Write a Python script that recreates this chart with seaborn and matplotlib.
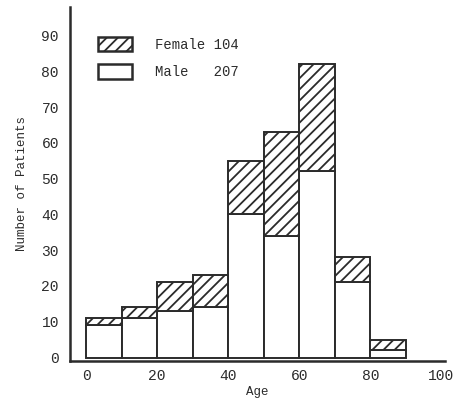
import matplotlib
matplotlib.use("Agg")
import matplotlib.pyplot as plt
import seaborn as sns
import pandas as pd
from matplotlib.patches import Patch

# Age groups (lower bound of each 10-year bin) and patient counts
age_bins = [0, 10, 20, 30, 40, 50, 60, 70, 80]
male_counts = [9, 11, 13, 14, 40, 34, 52, 21, 2]
female_counts = [2, 3, 8, 9, 15, 29, 30, 7, 3]
legend_labels = ["Female 104", "Male   207"]
x_ticks = [0, 20, 40, 60, 80, 100]
y_ticks = [0, 10, 20, 30, 40, 50, 60, 70, 80, 90]

ink = "#2b2b2b"
sns.set_style("white")
plt.rcParams["font.family"] = ["Liberation Mono", "DejaVu Sans Mono"]
plt.rcParams["hatch.linewidth"] = 1.3
plt.rcParams["hatch.color"] = ink

df = pd.DataFrame({
    "age": [a + 5 for a in age_bins] * 2,
    "count": male_counts + female_counts,
    "sex": ["Male"] * len(age_bins) + ["Female"] * len(age_bins),
})

fig = plt.figure(figsize=(4.55, 4.03), dpi=100)
ax = fig.add_axes([0.154, 0.104, 0.824, 0.879])

sns.histplot(
    data=df, x="age", weights="count", hue="sex",
    hue_order=["Female", "Male"], multiple="stack",
    bins=list(range(0, 100, 10)),
    palette={"Female": "#ff0000", "Male": "#0000ff"},
    edgecolor=ink, linewidth=1.4, alpha=1, legend=False, ax=ax,
)

# Female bars hatched, male bars plain white
for p in ax.patches:
    r, g, b, _ = p.get_facecolor()
    if r > 0.5:
        p.set_hatch("///")
    p.set_facecolor("white")
    p.set_edgecolor(ink)

ax.set_xlim(-4.5, 101)
ax.set_ylim(-1, 98)
ax.set_xticks(x_ticks)
ax.set_yticks(y_ticks)
ax.tick_params(direction="in", length=4, width=1.4, colors=ink,
               labelsize=10.5, pad=8)
ax.tick_params(axis="x", pad=6)
for side in ("top", "right"):
    ax.spines[side].set_visible(False)
for side in ("left", "bottom"):
    ax.spines[side].set_color(ink)
    ax.spines[side].set_linewidth(1.8)

ax.set_xlabel("Age", fontsize=9, color=ink, labelpad=2)
ax.set_ylabel("Number of Patients", fontsize=9, color=ink, labelpad=10)

handles = [
    Patch(facecolor="white", edgecolor=ink, hatch="///", linewidth=1.8),
    Patch(facecolor="white", edgecolor=ink, linewidth=1.8),
]
ax.legend(handles, legend_labels, loc="upper left",
          bbox_to_anchor=(0.04, 0.95), frameon=False, fontsize=10,
          handlelength=2.5, handleheight=1.2, handletextpad=1.6,
          labelspacing=0.9, labelcolor=ink)

fig.savefig("out.png", dpi=100)
